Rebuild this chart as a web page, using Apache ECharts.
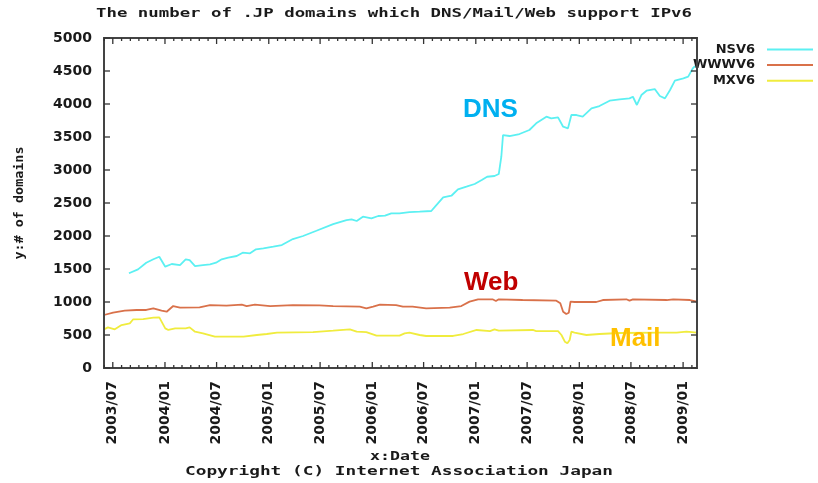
<!DOCTYPE html>
<html>
<head>
<meta charset="utf-8">
<title>IPv6 support among .JP domains</title>
<script src="https://cdn.jsdelivr.net/npm/echarts@6/dist/echarts.min.js"></script>
<style>
  html, body { margin: 0; padding: 0; background: #ffffff; }
  #chart { width: 818px; height: 483px; }
</style>
</head>
<body>
<div id="chart"></div>
<script>
// ---- data -------------------------------------------------------------
const seriesNames = ['NSV6', 'WWWV6', 'MXV6'];

const dnsDates = [
  '2003-08-27','2003-09-28','2003-10-27','2003-11-21','2003-12-12','2004-01-02','2004-01-25','2004-02-23',
  '2004-03-14','2004-03-28','2004-04-16','2004-05-14','2004-06-08','2004-06-29','2004-07-19','2004-08-11',
  '2004-09-10','2004-10-01','2004-10-27','2004-11-17','2004-12-13','2005-01-17','2005-02-16','2005-03-27',
  '2005-05-02','2005-06-18','2005-08-16','2005-10-02','2005-10-20','2005-11-07','2005-11-29','2005-12-29',
  '2006-01-22','2006-02-15','2006-03-09','2006-04-07','2006-05-12','2006-06-17','2006-07-28','2006-08-15',
  '2006-09-08','2006-10-07','2006-10-30','2006-11-29','2006-12-28','2007-01-22','2007-02-10','2007-03-08',
  '2007-03-23','2007-04-01','2007-04-07','2007-04-30','2007-06-04','2007-07-09','2007-08-02','2007-09-07',
  '2007-09-24','2007-10-18','2007-11-05','2007-11-22','2007-12-04','2007-12-22','2008-01-13','2008-02-13',
  '2008-03-12','2008-04-17','2008-05-22','2008-06-26','2008-07-08','2008-07-22','2008-08-07','2008-08-25',
  '2008-09-23','2008-10-11','2008-10-29','2008-11-16','2008-12-03','2009-01-02','2009-01-19','2009-02-04',
  '2009-02-12'
];
const dnsCounts = [
  1435, 1495, 1595, 1647, 1686, 1535, 1576, 1560,
  1647, 1636, 1545, 1560, 1571, 1595, 1647, 1671,
  1697, 1747, 1738, 1798, 1814, 1838, 1863, 1954,
  2000, 2080, 2181, 2242, 2253, 2227, 2292, 2268,
  2303, 2308, 2344, 2344, 2363, 2368, 2379, 2469,
  2586, 2610, 2707, 2747, 2788, 2848, 2898, 2909,
  2939, 3201, 3530, 3515, 3545, 3606, 3707, 3808,
  3783, 3798, 3656, 3631, 3833, 3833, 3808, 3934,
  3969, 4050, 4070, 4085, 4110, 3985, 4136, 4201,
  4227, 4121, 4085, 4212, 4353, 4389, 4414, 4540,
  4575
];

const webDates = [
  '2003-05-31','2003-07-02','2003-08-12','2003-09-23','2003-10-27','2003-11-21','2003-12-20','2004-01-07',
  '2004-01-30','2004-02-23','2004-05-02','2004-06-08','2004-08-05','2004-09-28','2004-10-15','2004-11-13',
  '2005-01-06','2005-03-27','2005-06-29','2005-08-16','2005-11-18','2005-12-11','2006-01-04','2006-01-28',
  '2006-03-26','2006-04-19','2006-05-23','2006-07-10','2006-10-01','2006-11-11','2006-12-10','2007-01-09',
  '2007-03-01','2007-03-13','2007-03-23','2007-06-15','2007-10-12','2007-10-26','2007-11-05','2007-11-16',
  '2007-11-25','2007-12-01','2007-12-15','2008-03-01','2008-03-24','2008-06-15','2008-06-26','2008-07-08',
  '2008-11-04','2008-11-27','2009-01-25','2009-02-19'
];
const webCounts = [
  803, 838, 868, 879, 879, 904, 868, 853,
  939, 914, 919, 954, 944, 959, 939, 959,
  939, 954, 949, 939, 929, 904, 929, 959,
  954, 929, 929, 904, 914, 939, 1005, 1041,
  1041, 1015, 1041, 1030, 1020, 980, 853, 818,
  838, 1005, 1000, 1000, 1030, 1041, 1020, 1041,
  1030, 1041, 1030, 1005
];

const mailDates = [
  '2003-05-31','2003-06-14','2003-07-08','2003-08-01','2003-08-30','2003-09-11','2003-10-16','2003-11-21',
  '2003-12-12','2004-01-02','2004-01-13','2004-02-06','2004-03-14','2004-03-28','2004-04-16','2004-05-14',
  '2004-06-25','2004-10-04','2004-11-20','2004-12-25','2005-01-30','2005-06-06','2005-08-16','2005-10-14',
  '2005-11-07','2005-12-11','2006-01-16','2006-04-07','2006-04-25','2006-05-12','2006-06-17','2006-07-10',
  '2006-10-13','2006-11-18','2007-01-04','2007-02-20','2007-03-08','2007-03-23','2007-07-21','2007-08-02',
  '2007-10-18','2007-10-30','2007-11-11','2007-11-20','2007-11-28','2007-12-04','2007-12-15','2008-01-26',
  '2008-03-12','2008-05-22','2008-10-11','2008-12-09','2009-01-13','2009-02-19'
];
const mailCounts = [
  586, 616, 586, 651, 677, 738, 742, 762,
  768, 601, 576, 601, 601, 616, 550, 525,
  474, 474, 500, 515, 535, 545, 565, 586,
  550, 545, 490, 490, 525, 535, 500, 485,
  485, 515, 576, 560, 586, 565, 576, 560,
  560, 500, 399, 374, 424, 550, 535, 500,
  515, 530, 535, 535, 550, 535
];

// x-axis tick labels (half-yearly) and value-axis range
const dateTickLabels = [
  '2003/07','2004/01','2004/07','2005/01','2005/07','2006/01',
  '2006/07','2007/01','2007/07','2008/01','2008/07','2009/01'
];
const dateRange = ['2003-05-31', '2009-02-19'];
const countMin = 0, countMax = 5000, countStep = 500;

// ---- helpers ----------------------------------------------------------
function parseDay(s) {
  const p = s.split('-').map(Number);
  return new Date(p[0], p[1] - 1, p[2]).getTime();
}
function pairs(dates, values) {
  return dates.map((d, i) => [parseDay(d), values[i]]);
}
function pad2(n) { return (n < 10 ? '0' : '') + n; }

const xMin = parseDay(dateRange[0]);
const xMax = parseDay(dateRange[1]);
const majorTicks = dateTickLabels.map(l => {
  const p = l.split('/').map(Number);
  return new Date(p[0], p[1] - 1, 1).getTime();
});
// monthly minor ticks inside the range
const minorTicks = [];
{
  const d0 = new Date(xMin);
  let yr = d0.getFullYear(), mo = d0.getMonth() + 1;
  while (true) {
    const t = new Date(yr, mo, 1).getTime();
    if (t > xMax) break;
    minorTicks.push(t);
    mo++;
  }
}
const countTicks = [];
for (let v = countMin; v <= countMax; v += countStep) countTicks.push(v);

const frameColor = '#444444';
const tickColor = '#333333';
const labelFont = { fontFamily: 'DejaVu Sans', fontWeight: 'bold', fontSize: 14, color: '#1a1a1a' };
const monoFont = 'bold 13px "DejaVu Sans Mono"';

const measureCtx = document.createElement('canvas').getContext('2d');
function widthScale(text, font, target) {
  measureCtx.font = font;
  const w = measureCtx.measureText(text).width;
  return w > 0 ? target / w : 1;
}
function monoText(text, x, y, target, rotation) {
  return {
    type: 'text', x: x, y: y, rotation: rotation || 0,
    scaleX: widthScale(text, monoFont, target), z: 100,
    style: { text: text, font: monoFont, fill: '#1a1a1a', align: 'center', verticalAlign: 'middle' }
  };
}
function note(text, x, y, color) {
  return {
    type: 'text', x: x, y: y, z: 100,
    style: { text: text, font: 'bold 26px "Liberation Sans"', fill: color, align: 'left', verticalAlign: 'middle' }
  };
}

// the date axis is a plain value axis holding timestamps
const dateAxis = {
  type: 'value', min: xMin, max: xMax,
  axisLine: { show: false },
  splitLine: { show: false },
  axisTick: { show: false },
  axisLabel: Object.assign({
    show: true, customValues: majorTicks, rotate: 90, margin: 13,
    formatter: v => { const d = new Date(v); return d.getFullYear() + '/' + pad2(d.getMonth() + 1); }
  }, labelFont)
};
const countAxis = {
  type: 'value', min: countMin, max: countMax, interval: countStep,
  axisLine: { show: false },
  splitLine: { show: false },
  axisTick: { show: false },
  axisLabel: Object.assign({ show: true, margin: 12, formatter: v => String(v) }, labelFont)
};

const lineColors = ['#5cf0f2', '#d9714a', '#f0ec3e'];

const chart = echarts.init(document.getElementById('chart'));
chart.setOption({
  animation: false,
  grid: { left: 104, right: 121, top: 38, bottom: 115 },
  xAxis: dateAxis,
  yAxis: countAxis,
  legend: {
    orient: 'vertical', right: 0, top: 38, align: 'right',
    icon: 'rect', itemWidth: 46, itemHeight: 2, itemGap: 2.6,
    textStyle: { fontFamily: 'DejaVu Sans', fontWeight: 'bold', fontSize: 13, color: '#1a1a1a',
                 lineHeight: 12, padding: [0, 7, 0, 0] },
    data: seriesNames
  },
  series: [
    { name: seriesNames[0], data: pairs(dnsDates, dnsCounts) },
    { name: seriesNames[1], data: pairs(webDates, webCounts) },
    { name: seriesNames[2], data: pairs(mailDates, mailCounts) }
  ].map((s, i) => Object.assign({
    type: 'line', showSymbol: false, symbol: 'none',
    color: lineColors[i], lineStyle: { color: lineColors[i], width: 1.8 }, z: 3 - i
  }, s))
});

// frame with inward ticks on all four sides, placed through the axes' own scales
const toPx = (x, y) => chart.convertToPixel({ gridIndex: 0 }, [x, y]);
const cornerTL = toPx(xMin, countMax);
const cornerBR = toPx(xMax, countMin);
const frameLeft = cornerTL[0], frameTop = cornerTL[1];
const frameRight = cornerBR[0], frameBottom = cornerBR[1];

const frameParts = [{
  type: 'rect', z: 50,
  shape: { x: frameLeft, y: frameTop, width: frameRight - frameLeft, height: frameBottom - frameTop },
  style: { fill: 'none', stroke: frameColor, lineWidth: 2 }
}];
function addTick(x1, y1, x2, y2) {
  frameParts.push({
    type: 'line', z: 50,
    shape: { x1: x1, y1: y1, x2: x2, y2: y2 },
    style: { stroke: tickColor, lineWidth: 1.3 }
  });
}
minorTicks.forEach(t => {
  const px = toPx(t, countMin)[0];
  const len = majorTicks.indexOf(t) >= 0 ? 6 : 3;
  addTick(px, frameBottom, px, frameBottom - len);
  addTick(px, frameTop, px, frameTop + len);
});
countTicks.forEach(v => {
  const py = toPx(xMin, v)[1];
  addTick(frameLeft, py, frameLeft + 6, py);
  addTick(frameRight, py, frameRight - 6, py);
});

chart.setOption({
  graphic: frameParts.concat([
    monoText('The number of .JP domains which DNS/Mail/Web support IPv6', 394, 14, 596),
    monoText('x:Date', 400, 457, 60),
    monoText('Copyright (C) Internet Association Japan', 399, 472, 428),
    monoText('y:# of domains', 20, 203, 113, Math.PI / 2),
    note('DNS', 463, 110, '#00b0f0'),
    note('Web', 464, 283, '#c00000'),
    note('Mail', 610, 339, '#ffc000')
  ])
});
</script>
</body>
</html>
